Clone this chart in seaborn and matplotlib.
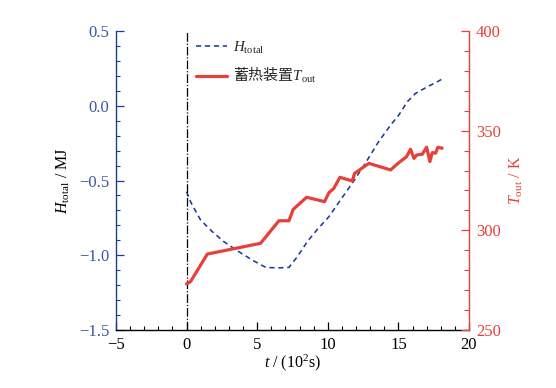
import matplotlib
matplotlib.use("Agg")
import matplotlib.pyplot as plt
import seaborn as sns
import pandas as pd
from matplotlib.ticker import MultipleLocator

# ---- data ----
t_H = [0.0, 0.28, 0.99, 1.82, 2.64, 3.70, 4.65, 5.60, 6.42, 7.25, 7.84, 8.55,
       9.26, 10.08, 10.90, 11.73, 12.80, 13.60, 14.45, 15.03, 15.63, 16.22,
       17.05, 17.76, 18.10]
H_total = [-0.575, -0.642, -0.764, -0.842, -0.909, -0.976, -1.032, -1.081,
           -1.085, -1.081, -1.010, -0.909, -0.827, -0.742, -0.630, -0.519,
           -0.363, -0.240, -0.129, -0.062, 0.027, 0.083, 0.127, 0.161, 0.179]
t_T = [0.0, 0.28, 1.47, 5.24, 6.54, 7.25, 7.55, 8.50, 9.77, 10.08, 10.43,
       10.86, 11.73, 11.90, 12.91, 14.45, 14.92, 15.58, 15.86, 16.10, 16.29,
       16.69, 17.00, 17.23, 17.40, 17.63, 17.80, 18.10]
T_out = [273.1, 274.3, 288.1, 293.5, 304.8, 304.8, 310.5, 316.6, 314.4, 318.9,
         321.1, 326.6, 324.8, 328.6, 333.6, 330.3, 333.3, 337.0, 340.7, 336.1,
         337.8, 338.2, 341.7, 334.5, 339.0, 338.7, 341.7, 341.2]
label_H = r"$H_{\mathrm{total}}$"
label_T = r"蓄热装置$T_{\mathrm{out}}$"

BLUE = "#1c3b96"
BLUE_TXT = "#3b55a8"
RED = "#e5403a"

sns.set_theme(style="ticks")
plt.rcParams["font.family"] = ["Liberation Serif", "Noto Sans CJK SC"]
plt.rcParams["mathtext.fontset"] = "custom"
plt.rcParams["mathtext.rm"] = "Liberation Serif"
plt.rcParams["mathtext.it"] = "Liberation Serif:italic"
plt.rcParams["mathtext.bf"] = "Liberation Serif:bold"
plt.rcParams["axes.unicode_minus"] = True

fig = plt.figure(figsize=(5.56, 3.88), dpi=100)
ax = fig.add_axes([0.2086, 0.1495, 0.6349, 0.7705])
ax2 = ax.twinx()

dfH = pd.DataFrame({"t": t_H, "v": H_total})
dfT = pd.DataFrame({"t": t_T, "v": T_out})

sns.lineplot(data=dfH, x="t", y="v", ax=ax, color=BLUE, lw=1.15, sort=False,
             estimator=None, label=label_H, legend=False, dashes=False)
ax.lines[-1].set_dashes((3.2, 2.4))
ax.axvline(0, color="black", lw=0.9, ls=(0, (7, 1.5, 1, 1.5)))
sns.lineplot(data=dfT, x="t", y="v", ax=ax2, color=RED, lw=2.3, sort=False,
             estimator=None, label=label_T, legend=False)

ax.set_xlim(-5, 20)
ax.set_ylim(-1.5, 0.5)
ax2.set_ylim(250, 400)
ax.xaxis.set_major_locator(MultipleLocator(5))
ax.xaxis.set_minor_locator(MultipleLocator(1))
ax.yaxis.set_major_locator(MultipleLocator(0.5))
ax.yaxis.set_minor_locator(MultipleLocator(0.1))
ax2.yaxis.set_major_locator(MultipleLocator(50))
ax2.yaxis.set_minor_locator(MultipleLocator(10))
ax.set_yticks([-1.5, -1.0, -0.5, 0.0, 0.5])
ax.set_yticklabels(["\u22121.5", "\u22121.0", "\u22120.5", "0.0", "0.5"])

for a in (ax, ax2):
    a.spines["top"].set_visible(False)
ax.spines["left"].set_color(BLUE)
ax.spines["right"].set_visible(False)
ax.spines["bottom"].set_color("black")
ax2.spines["left"].set_visible(False)
ax2.spines["bottom"].set_visible(False)
ax2.spines["right"].set_color(RED)
for s in ("left", "bottom"):
    ax.spines[s].set_linewidth(1.0)
ax2.spines["right"].set_linewidth(1.0)

ax.tick_params(axis="x", which="both", direction="in", colors="black",
               labelsize=12, pad=5)
ax.tick_params(axis="x", which="major", length=5.5, width=0.9)
ax.tick_params(axis="x", which="minor", length=3, width=0.8)
ax.tick_params(axis="y", which="both", direction="in", color=BLUE,
               labelcolor=BLUE_TXT, labelsize=12, pad=5)
ax.tick_params(axis="y", which="major", length=5.5, width=0.9)
ax.tick_params(axis="y", which="minor", length=3, width=0.8)
ax2.tick_params(axis="y", which="both", direction="in", color=RED,
                labelcolor=RED, labelsize=12, pad=5)
ax2.tick_params(axis="y", which="major", length=5.5, width=0.9)
ax2.tick_params(axis="y", which="minor", length=3.5, width=0.8)

ax.set_xlabel(r"$t$ / (10$^2$s)", fontsize=11.5, color="black", labelpad=0)
ax.set_ylabel(r"$H_{\mathrm{total}}$ / MJ", fontsize=11.5, color="black",
              labelpad=5)
ax2.set_ylabel(r"$T_{\mathrm{out}}$ / K", fontsize=11.5, color=RED, labelpad=5)

handles = [ax.lines[0], ax2.lines[0]]
leg = ax.legend(handles, [label_H, label_T], loc="upper left",
                bbox_to_anchor=(0.226, 0.972), frameon=False, borderpad=0,
                borderaxespad=0, handlelength=2.1, handletextpad=0.35,
                labelspacing=0.65,
                prop={"family": ["Noto Sans CJK SC"], "size": 10.8})
ax2.set_zorder(ax.get_zorder() + 1)
ax2.patch.set_visible(False)

fig.savefig("out.png", dpi=100)
